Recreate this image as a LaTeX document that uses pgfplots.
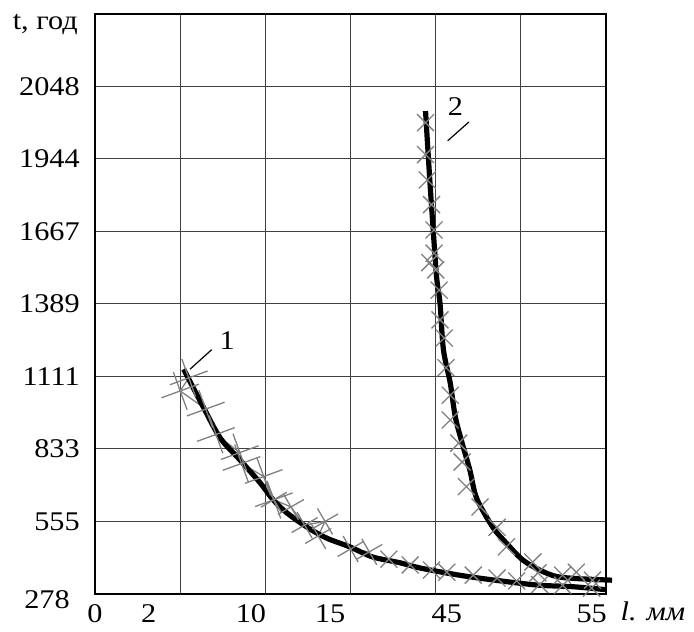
\documentclass[border=0pt]{standalone}
\usepackage{fontspec}
\setmainfont[FakeStretch=1.12]{Liberation Serif}
\usepackage{pgfplots}
\pgfplotsset{compat=1.18}

\begin{document}
\fontsize{13.5}{16}\selectfont
\begin{tikzpicture}
\begin{axis}[
  scale only axis, width=255.5pt, height=290pt,
  xmin=0, xmax=6, ymin=0, ymax=8,
  clip=false,
  axis line style={line width=1pt},
  xtick={0,0.63,1.83,2.76,4.13,5.83},
  xticklabels={0,2,10,15,45,55},
  ytick={1,2,3,4,5,6,7},
  yticklabels={555,833,1111,1389,1667,1944,2048},
  minor xtick={1,2,3,4,5},
  xminorgrids, ymajorgrids,
  major tick length=0pt, minor tick length=0pt,
  grid style={black!75, line width=0.5pt},
  minor grid style={black!75, line width=0.5pt},
  xticklabel style={yshift=-0.5pt},
  yticklabel style={xshift=-3pt},
  /pgf/number format/assume math mode=true,
  tick label style={font=\fontsize{13.5}{16}\selectfont},
]
% curve 1 data points
\addplot[black!50, line width=0.65pt, mark=x, mark size=10pt,
  mark options={rotate=-25}] coordinates {
  (1.10,2.98)(1.00,2.80)(1.30,2.55)(1.42,2.20)(1.70,1.95)(1.72,1.80)(1.98,1.62)(2.10,1.30)};
\addplot[black!50, line width=0.65pt, mark=x, mark size=7.5pt,
  mark options={rotate=-15}] coordinates {
  (2.10,1.30)(2.30,1.20)(2.46,0.95)(2.70,1.00)(2.62,0.80)(3.00,0.62)(3.22,0.58)};
\addplot[black!50, only marks, mark=x, mark size=6pt, line width=0.65pt] coordinates {
  (3.45,0.48)(3.70,0.40)(3.95,0.33)(4.13,0.30)(4.44,0.26)(4.72,0.22)(4.95,0.18)
  (5.22,0.13)(5.49,0.12)(5.83,0.08)};
% curve 2 data points
\addplot[black!50, only marks, mark=x, mark size=6pt, line width=0.65pt] coordinates {
  (3.88,6.50)(3.88,6.06)(3.90,5.71)(3.95,5.37)(3.98,5.02)(3.98,4.70)(4.00,4.47)
  (3.93,4.57)(4.04,4.19)(4.05,3.78)(4.10,3.53)(4.12,3.12)(4.17,2.74)(4.17,2.40)
  (4.27,2.08)(4.31,1.82)(4.36,1.48)(4.52,1.20)(4.72,0.92)(4.83,0.65)(5.14,0.44)
  (5.20,0.29)(5.49,0.26)(5.65,0.30)(5.84,0.19)};
% curve 1
\addplot[black, line width=2.6pt, smooth] coordinates {
  (1.04,3.10)(1.27,2.58)(1.47,2.15)(1.70,1.85)(1.94,1.53)(2.09,1.30)(2.25,1.12)
  (2.49,0.92)(2.72,0.77)(2.99,0.65)(3.26,0.51)(3.58,0.43)(3.81,0.36)(4.17,0.28)
  (4.44,0.23)(4.83,0.17)(5.22,0.12)(5.61,0.10)(5.99,0.06)};
% curve 2
\addplot[black, line width=2.6pt, smooth] coordinates {
  (3.88,6.66)(3.93,5.71)(3.97,5.02)(4.01,4.37)(4.05,4.01)(4.09,3.37)(4.17,2.91)
  (4.23,2.44)(4.31,2.08)(4.40,1.71)(4.48,1.32)(4.67,0.92)(4.83,0.70)(5.02,0.47)
  (5.22,0.33)(5.42,0.24)(5.69,0.21)(6.07,0.19)};
% annotations
\draw[line width=0.6pt] (axis cs:1.115,3.10) -- (axis cs:1.37,3.37);
\node at (axis cs:1.55,3.50) {1};
\draw[line width=0.6pt] (axis cs:4.14,6.25) -- (axis cs:4.39,6.51);
\node at (axis cs:4.23,6.72) {2};
\node[anchor=east, inner sep=0pt] at ([xshift=-12.5pt]axis cs:0,-0.08) {278};
\node[anchor=east, inner sep=0pt] at ([xshift=-8.5pt]axis cs:0,7.85) {t, год};
\node[anchor=north, inner sep=0pt] at ([yshift=-3.5pt]axis cs:6.55,0) {\textit{l. мм}};
\path (rel axis cs:-0.186,-0.052) rectangle (rel axis cs:1.172,1.024);
\end{axis}
\end{tikzpicture}
\end{document}
